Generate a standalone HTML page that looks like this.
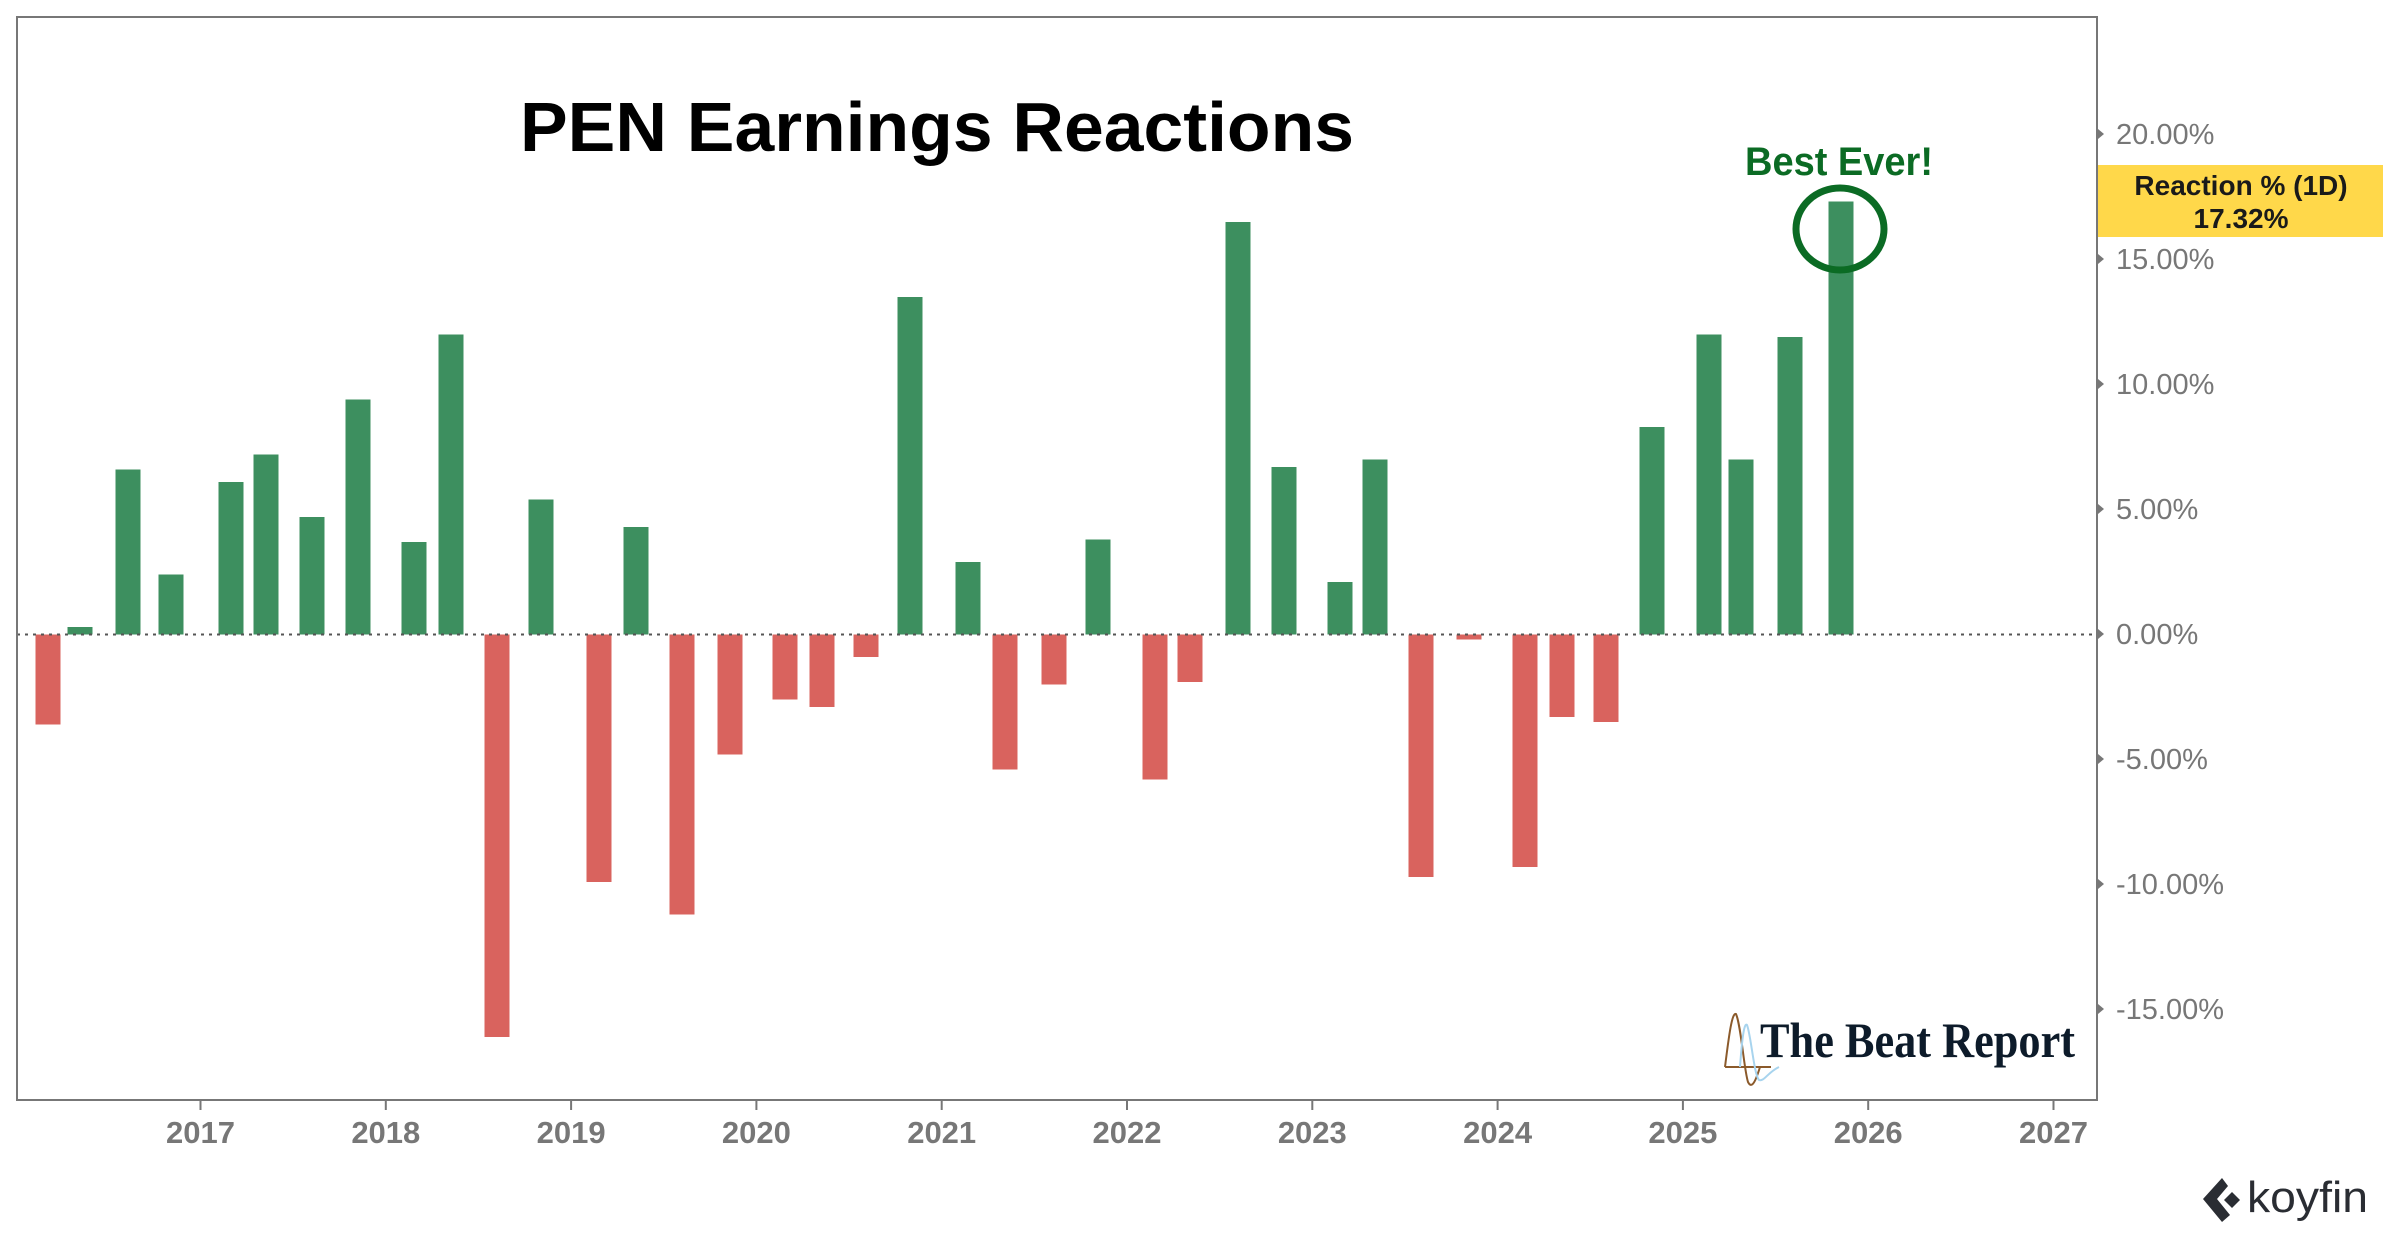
<!DOCTYPE html>
<html><head><meta charset="utf-8"><style>
html,body{margin:0;padding:0;background:#fff;width:2400px;height:1240px;overflow:hidden}
svg{display:block}
</style></head><body>
<svg width="2400" height="1240" viewBox="0 0 2400 1240" xmlns="http://www.w3.org/2000/svg">
<rect x="0" y="0" width="2400" height="1240" fill="#fff"/>
<g fill="#3d8f5f">
<rect x="67.5" y="627" width="25" height="7.5"/>
<rect x="115.5" y="469.5" width="25" height="165"/>
<rect x="158.5" y="574.5" width="25" height="60"/>
<rect x="218.5" y="482" width="25" height="152.5"/>
<rect x="253.5" y="454.5" width="25" height="180"/>
<rect x="299.5" y="517" width="25" height="117.5"/>
<rect x="345.5" y="399.5" width="25" height="235"/>
<rect x="401.5" y="542" width="25" height="92.5"/>
<rect x="438.5" y="334.5" width="25" height="300"/>
<rect x="528.5" y="499.5" width="25" height="135"/>
<rect x="623.5" y="527" width="25" height="107.5"/>
<rect x="897.5" y="297" width="25" height="337.5"/>
<rect x="955.5" y="562" width="25" height="72.5"/>
<rect x="1085.5" y="539.5" width="25" height="95"/>
<rect x="1225.5" y="222" width="25" height="412.5"/>
<rect x="1271.5" y="467" width="25" height="167.5"/>
<rect x="1327.5" y="582" width="25" height="52.5"/>
<rect x="1362.5" y="459.5" width="25" height="175"/>
<rect x="1639.5" y="427" width="25" height="207.5"/>
<rect x="1696.5" y="334.5" width="25" height="300"/>
<rect x="1728.5" y="459.5" width="25" height="175"/>
<rect x="1777.5" y="337" width="25" height="297.5"/>
<rect x="1828.5" y="201.5" width="25" height="433"/>
</g>
<g fill="#d9635e">
<rect x="35.5" y="634.5" width="25" height="90"/>
<rect x="484.5" y="634.5" width="25" height="402.5"/>
<rect x="586.5" y="634.5" width="25" height="247.5"/>
<rect x="669.5" y="634.5" width="25" height="280"/>
<rect x="717.5" y="634.5" width="25" height="120"/>
<rect x="772.5" y="634.5" width="25" height="65"/>
<rect x="809.5" y="634.5" width="25" height="72.5"/>
<rect x="853.5" y="634.5" width="25" height="22.5"/>
<rect x="992.5" y="634.5" width="25" height="135"/>
<rect x="1041.5" y="634.5" width="25" height="50"/>
<rect x="1142.5" y="634.5" width="25" height="145"/>
<rect x="1177.5" y="634.5" width="25" height="47.5"/>
<rect x="1408.5" y="634.5" width="25" height="242.5"/>
<rect x="1456.5" y="634.5" width="25" height="5"/>
<rect x="1512.5" y="634.5" width="25" height="232.5"/>
<rect x="1549.5" y="634.5" width="25" height="82.5"/>
<rect x="1593.5" y="634.5" width="25" height="87.5"/>
</g>
<line x1="17" y1="634.5" x2="2097" y2="634.5" stroke="#555" stroke-width="2" stroke-dasharray="3,5"/>
<rect x="17" y="17" width="2080" height="1083" fill="none" stroke="#777" stroke-width="2"/>
<g fill="#777">
<polygon points="2098,129 2104,134 2098,139"/>
<polygon points="2098,254 2104,259 2098,264"/>
<polygon points="2098,379 2104,384 2098,389"/>
<polygon points="2098,504 2104,509 2098,514"/>
<polygon points="2098,629 2104,634 2098,639"/>
<polygon points="2098,754 2104,759 2098,764"/>
<polygon points="2098,879 2104,884 2098,889"/>
<polygon points="2098,1004 2104,1009 2098,1014"/>
</g>
<g font-family="Liberation Sans, sans-serif" font-size="29" fill="#777">
<text x="2116" y="144">20.00%</text>
<text x="2116" y="269">15.00%</text>
<text x="2116" y="394">10.00%</text>
<text x="2116" y="519">5.00%</text>
<text x="2116" y="644">0.00%</text>
<text x="2116" y="769">-5.00%</text>
<text x="2116" y="894">-10.00%</text>
<text x="2116" y="1019">-15.00%</text>
</g>
<g stroke="#777" stroke-width="2">
<line x1="200.5" y1="1100" x2="200.5" y2="1110"/>
<line x1="385.8" y1="1100" x2="385.8" y2="1110"/>
<line x1="571.1" y1="1100" x2="571.1" y2="1110"/>
<line x1="756.4" y1="1100" x2="756.4" y2="1110"/>
<line x1="941.7" y1="1100" x2="941.7" y2="1110"/>
<line x1="1127" y1="1100" x2="1127" y2="1110"/>
<line x1="1312.3" y1="1100" x2="1312.3" y2="1110"/>
<line x1="1497.6" y1="1100" x2="1497.6" y2="1110"/>
<line x1="1682.9" y1="1100" x2="1682.9" y2="1110"/>
<line x1="1868.2" y1="1100" x2="1868.2" y2="1110"/>
<line x1="2053.5" y1="1100" x2="2053.5" y2="1110"/>
</g>
<g font-family="Liberation Sans, sans-serif" font-size="31" font-weight="bold" fill="#777" text-anchor="middle">
<text x="200.5" y="1143">2017</text>
<text x="385.8" y="1143">2018</text>
<text x="571.1" y="1143">2019</text>
<text x="756.4" y="1143">2020</text>
<text x="941.7" y="1143">2021</text>
<text x="1127" y="1143">2022</text>
<text x="1312.3" y="1143">2023</text>
<text x="1497.6" y="1143">2024</text>
<text x="1682.9" y="1143">2025</text>
<text x="1868.2" y="1143">2026</text>
<text x="2053.5" y="1143">2027</text>
</g>
<text x="520" y="151" font-family="Liberation Sans, sans-serif" font-size="70" font-weight="bold" fill="#000" textLength="834" lengthAdjust="spacingAndGlyphs">PEN Earnings Reactions</text>
<text x="1745" y="175" font-family="Liberation Sans, sans-serif" font-size="40" font-weight="bold" fill="#0b6b24" textLength="188" lengthAdjust="spacingAndGlyphs">Best Ever!</text>
<ellipse cx="1840" cy="229" rx="44" ry="41" fill="none" stroke="#0b6b24" stroke-width="7"/>
<rect x="2098" y="165" width="285" height="72" fill="#ffd84a"/>
<g font-family="Liberation Sans, sans-serif" font-size="28" font-weight="bold" fill="#1a1a1a" text-anchor="middle">
<text x="2241" y="195">Reaction % (1D)</text>
<text x="2241" y="228">17.32%</text>
</g>
<path d="M1725,1067 L1771,1067 M1725,1067 C1729,1035 1732,1012 1736,1014 C1741,1025 1744,1070 1748,1082 C1752,1090 1756,1080 1760,1067" fill="none" stroke="#8b5a2b" stroke-width="2"/>
<path d="M1740,1067 C1742,1040 1744,1022 1747,1025 C1751,1035 1754,1075 1759,1080 C1764,1082 1768,1072 1779,1067" fill="none" stroke="#a8d4ee" stroke-width="2"/>
<text x="1760" y="1057" font-family="Liberation Serif, serif" font-size="50" font-weight="bold" fill="#0d1b2a" textLength="315" lengthAdjust="spacingAndGlyphs">The Beat Report</text>
<path d="M2222,1178 L2203,1199 L2222,1222 L2230,1215 L2217,1199 L2228,1186 Z M2232,1192 L2224,1200 L2232,1208 L2240,1200 Z" fill="#2a2d33"/>
<text x="2247" y="1212" font-family="Liberation Sans, sans-serif" font-size="44" fill="#2a2d33" textLength="121" lengthAdjust="spacingAndGlyphs">koyfin</text>
</svg>
</body></html>
